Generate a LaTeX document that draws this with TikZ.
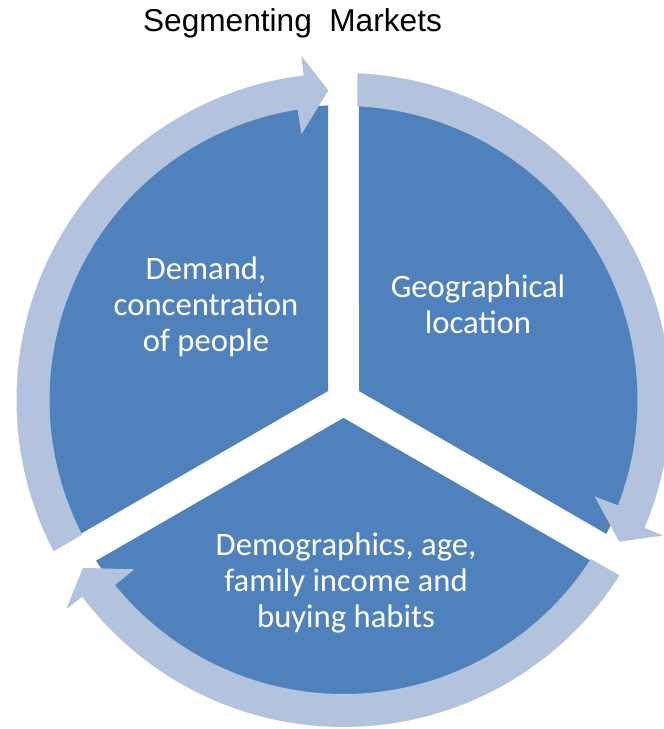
\documentclass[tikz,border=0pt]{standalone}
\usepackage{fontspec}
\setmainfont{Carlito}
\newfontfamily\titlefont{Liberation Sans}
\definecolor{pieblue}{RGB}{79,129,189}
\definecolor{arrowblue}{RGB}{179,194,221}
\begin{document}
\begin{tikzpicture}[x=0.02cm, y=0.02cm,
    piesector/.style={fill=pieblue},
    cyclearrow/.style={fill=arrowblue},
    segtext/.style={text=white, align=center, font=\fontsize{18.6}{20.5}\selectfont}]
    \useasboundingbox (-343.5,-329) rectangle (319.5,400);
    % pie, cut by three white gaps
    \foreach \g in {90,210,330}
        \fill[piesector] ({\g+60}:17.9) -- ({\g+3.01}:295)
        arc[start angle=\g+3.01, end angle=\g+116.99, radius=295] -- cycle;
    % arrows round the pie
    \foreach \g in {90,210,330}
        \fill[cyclearrow] ({\g-2.45}:327)
        arc[start angle=\g-2.45, end angle=\g-113, radius=327]
        -- ({\g-113}:347) -- ({\g-117.2}:310) -- ({\g-111}:269) -- ({\g-111}:294)
        arc[start angle=\g-111, end angle=\g-2.73, radius=294] -- cycle;
    \node[font=\titlefont\fontsize{18}{21}\selectfont, anchor=base] (title) at (-51,368) {Segmenting~~Markets};
    \node[segtext] (demand) at (-137.5,93) {Demand,\\concentration\\of people};
    \node[segtext] (geo) at (134.5,96) {Geographical\\location};
    \node[segtext] (demo) at (2.5,-183) {Demographics, age,\\family income and\\buying habits};
\end{tikzpicture}
\end{document}
